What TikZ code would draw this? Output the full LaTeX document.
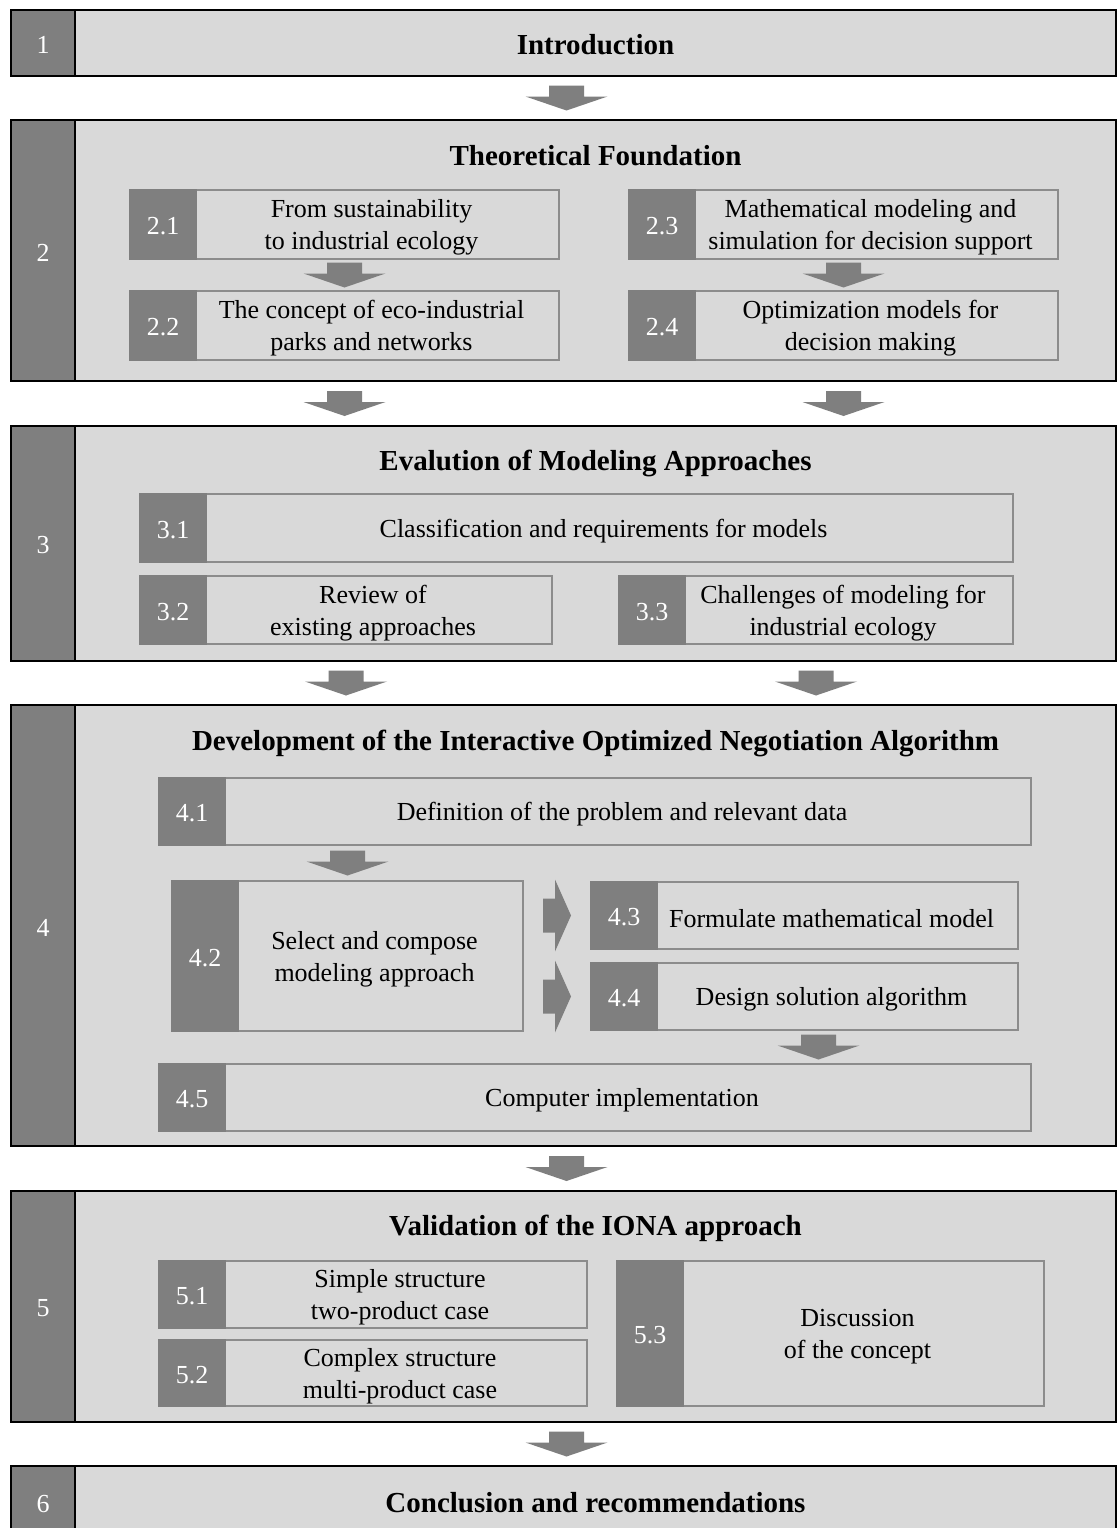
\documentclass[tikz,border=0pt]{standalone}
\usepackage{fontspec}
\setmainfont{Liberation Serif}
\usetikzlibrary{calc}

\definecolor{panel}{HTML}{D9D9D9}
\definecolor{tab}{HTML}{7F7F7F}
\definecolor{rim}{HTML}{8C8C8C}

\tikzset{
  mainbox/.style={draw=black, line width=2.6pt, fill=panel, inner sep=0pt, outer sep=0pt, anchor=north west},
  maintab/.style={draw=black, line width=2.6pt, fill=tab, inner sep=0pt, outer sep=0pt, anchor=north west},
  tabnum/.style={text=white, inner sep=0pt, yshift=-2pt, font=\fontsize{26}{32}\selectfont},
  subbox/.style={draw=rim, line width=2pt, fill=panel, inner sep=0pt, outer sep=0pt, anchor=north west},
  subtab/.style={draw=tab, line width=2pt, fill=tab, inner sep=0pt, outer sep=0pt, anchor=north west},
  subtext/.style={align=center, inner sep=0pt, yshift=-3pt, font=\fontsize{26}{32}\selectfont},
  titletext/.style={inner sep=0pt, font=\fontsize{29}{34}\selectfont\bfseries},
  blockdown/.pic={\fill[tab] (-17.5,-12.5) -- (17.5,-12.5) -- (17.5,-1.5) -- (41,-1.5) -- (0,12.5)
      -- (-41,-1.5) -- (-17.5,-1.5) -- cycle;},
  blockright/.pic={\fill[tab] (-14,-17) -- (-2,-17) -- (-2,-36) -- (14,0) -- (-2,36)
      -- (-2,17) -- (-14,17) -- cycle;}
}

% chapter block: name, top, bottom, number
\newcommand{\chapblock}[4]{%
  \node[mainbox, minimum width=1105pt, minimum height={(#3-#2)*1pt}] (#1) at (11,#2) {};
  \node[maintab, minimum width=64pt, minimum height={(#3-#2)*1pt}] (#1n) at (11,#2) {};
  \node[tabnum] (#1l) at (#1n.center) {#4};
}

% section block: name, x1, y1, x2, y2, number, text
\newcommand{\secblock}[7]{%
  \node[subbox, minimum width={(#4-#2)*1pt}, minimum height={(#5-#3)*1pt}] (#1) at (#2,#3) {};
  \node[subtab, minimum width=66pt, minimum height={(#5-#3)*1pt}] (#1n) at (#2,#3) {};
  \node[tabnum] (#1l) at (#1n.center) {#6};
  \node[subtext] (#1t) at ($(#1.east)!0.5!(#1n.east)+(-6,0)$) {#7};
}

\begin{document}
\begin{tikzpicture}[x=1pt, y=-1pt]
\clip (0,0) rectangle (1118,1528);
\fill[white] (0,0) rectangle (1118,1528);

% chapters
\chapblock{b1}{10}{76}{1}
\chapblock{b2}{120}{381}{2}
\chapblock{b3}{426}{661}{3}
\chapblock{b4}{705}{1146}{4}
\chapblock{b5}{1191}{1422}{5}
\chapblock{b6}{1466}{1538}{6}

% chapter titles
\node[titletext] (t1) at ($(b1.center)+(32,2)$) {Introduction};
\node[titletext] (t2) at ($(b2.north)+(32,36)$) {Theoretical Foundation};
\node[titletext] (t3) at ($(b3.north)+(32,37)$) {Evalution of Modeling Approaches};
\node[titletext] (t4) at ($(b4.north)+(32,38)$) {Development of the Interactive Optimized Negotiation Algorithm};
\node[titletext] (t5) at ($(b5.north)+(32,37)$) {Validation of the IONA approach};
\node[titletext] (t6) at ($(b6.north)+(32,37)$) {Conclusion and recommendations};

% chapter 2
\secblock{s21}{130}{190}{559}{259}{2.1}{From sustainability\\to industrial ecology}
\secblock{s22}{130}{291}{559}{360}{2.2}{The concept of eco-industrial\\parks and networks}
\secblock{s23}{629}{190}{1058}{259}{2.3}{Mathematical modeling and\\simulation for decision support}
\secblock{s24}{629}{291}{1058}{360}{2.4}{Optimization models for\\decision making}

% chapter 3
\secblock{s31}{140}{494}{1013}{562}{3.1}{Classification and requirements for models}
\secblock{s32}{140}{576}{552}{644}{3.2}{Review of\\existing approaches}
\secblock{s33}{619}{576}{1013}{644}{3.3}{Challenges of modeling for\\industrial ecology}

% chapter 4
\secblock{s41}{159}{778}{1031}{845}{4.1}{Definition of the problem and relevant data}
\secblock{s42}{172}{881}{523}{1031}{4.2}{Select and compose\\modeling approach}
\secblock{s43}{591}{882}{1018}{949}{4.3}{Formulate mathematical model}
\secblock{s44}{591}{963}{1018}{1030}{4.4}{Design solution algorithm}
\secblock{s45}{159}{1064}{1031}{1131}{4.5}{Computer implementation}

% chapter 5
\secblock{s51}{159}{1261}{587}{1328}{5.1}{Simple structure\\two-product case}
\secblock{s52}{159}{1340}{587}{1406}{5.2}{Complex structure\\multi-product case}
\secblock{s53}{617}{1261}{1044}{1406}{5.3}{Discussion\\of the concept}

% flow between chapters
\pic at ($(b1.south)!0.5!(b2.north)+(3,0)$) {blockdown};
\coordinate (m23) at ($(b2.south)!0.5!(b3.north)$);
\pic at (s21.south |- m23) {blockdown};
\pic at (s23.south |- m23) {blockdown};
\coordinate (m34) at ($(b3.south)!0.5!(b4.north)$);
\pic at (s32.south |- m34) {blockdown};
\pic at (s33.south |- m34) {blockdown};
\pic at ($(b4.south)!0.5!(b5.north)+(3,0)$) {blockdown};
\pic at ($(b5.south)!0.5!(b6.north)+(3,0)$) {blockdown};

% flow within chapters
\pic at ($(s21.south)!0.5!(s22.north)$) {blockdown};
\pic at ($(s23.south)!0.5!(s24.north)$) {blockdown};
\coordinate (m412) at ($(s41.south)!0.5!(s42.north)$);
\pic at (s42.north |- m412) {blockdown};
\coordinate (m4r) at ($(s42.east)!0.5!(s43.west)$);
\pic at (m4r |- s43.west) {blockright};
\pic at (m4r |- s44.west) {blockright};
\coordinate (m445) at ($(s44.south)!0.5!(s45.north)$);
\pic at ($(s44.south |- m445)+(14,0)$) {blockdown};
\end{tikzpicture}
\end{document}
